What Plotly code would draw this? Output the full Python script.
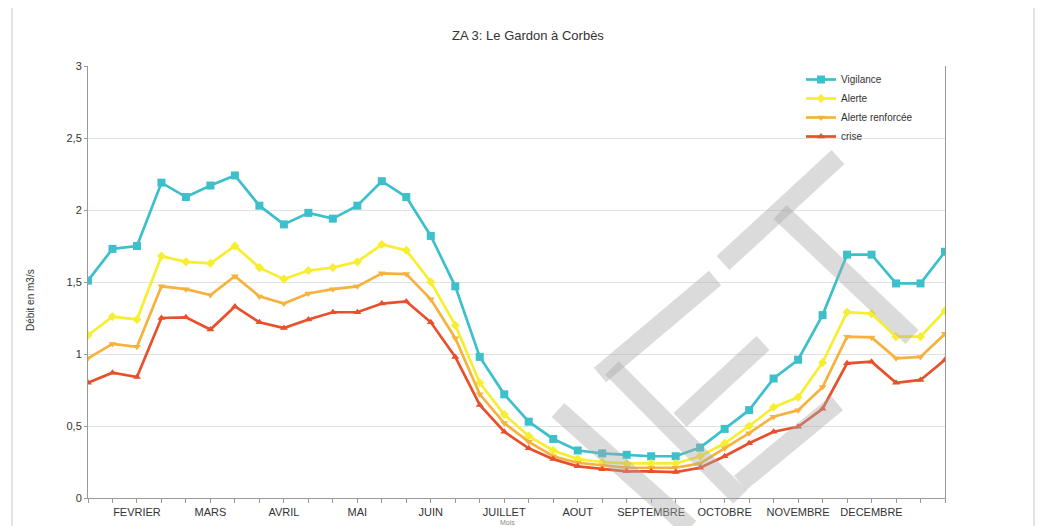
import plotly.graph_objects as go

# ---- data -------------------------------------------------------------
months = ["JANVIER", "FEVRIER", "MARS", "AVRIL", "MAI", "JUIN", "JUILLET",
          "AOUT", "SEPTEMBRE", "OCTOBRE", "NOVEMBRE", "DECEMBRE"]
decades = [f"{m} D{d}" for m in months for d in (1, 2, 3)]

# month labels shown on the axis (under the 3rd decade of the previous month)
tick_labels = ["FEVRIER", "MARS", "AVRIL", "MAI", "JUIN", "JUILLET", "AOUT",
               "SEPTEMBRE", "OCTOBRE", "NOVEMBRE", "DECEMBRE"]

vigilance = [1.51, 1.73, 1.75, 2.19, 2.09, 2.17, 2.24, 2.03, 1.90, 1.98, 1.94, 2.03,
             2.20, 2.09, 1.82, 1.47, 0.98, 0.72, 0.53, 0.41, 0.33, 0.31, 0.30, 0.29,
             0.29, 0.35, 0.48, 0.61, 0.83, 0.96, 1.27, 1.69, 1.69, 1.49, 1.49, 1.71]
alerte = [1.13, 1.26, 1.24, 1.68, 1.64, 1.63, 1.75, 1.60, 1.52, 1.58, 1.60, 1.64,
          1.76, 1.72, 1.50, 1.20, 0.80, 0.58, 0.43, 0.33, 0.27, 0.25, 0.24, 0.24,
          0.24, 0.29, 0.38, 0.50, 0.63, 0.70, 0.94, 1.29, 1.28, 1.12, 1.12, 1.30]
alerte_renforcee = [0.97, 1.07, 1.05, 1.47, 1.45, 1.41, 1.54, 1.40, 1.35, 1.42, 1.45, 1.47,
                    1.56, 1.555, 1.38, 1.11, 0.72, 0.52, 0.39, 0.29, 0.245, 0.225, 0.21, 0.21,
                    0.21, 0.24, 0.345, 0.45, 0.565, 0.61, 0.77, 1.12, 1.115, 0.97, 0.98, 1.14]
crise = [0.80, 0.87, 0.84, 1.25, 1.255, 1.17, 1.33, 1.22, 1.18, 1.24, 1.29, 1.29,
         1.35, 1.365, 1.22, 0.98, 0.646, 0.46, 0.345, 0.27, 0.22, 0.20, 0.185, 0.185,
         0.18, 0.21, 0.29, 0.38, 0.46, 0.495, 0.62, 0.935, 0.947, 0.80, 0.82, 0.96]

series = [
    ("Vigilance", vigilance, "#3dbfcc", "square", 8),
    ("Alerte", alerte, "#f6ee2e", "diamond", 7),
    ("Alerte renforcée", alerte_renforcee, "#f7b23e", "triangle-down", 7),
    ("crise", crise, "#e8502c", "triangle-up", 7),
]

# ---- layout geometry (screen pixels; page body adds an 8px offset) -----
W, H = 1044, 526
OFF = 8
PL, PR, PT, PB = 88, 945, 66, 498          # plot area on screen
L, T = PL - OFF, PT - OFF
R = W - (PR - OFF)
B = H - (PB - OFF)
pw, ph = PR - PL, PB - PT


def px_x(px):
    return (px - PL) / pw


def px_y(py):
    return (PB - py) / ph


fig = go.Figure()
for name, vals, col, sym, sz in series:
    fig.add_trace(go.Scatter(
        x=decades, y=vals, name=name, mode="lines+markers",
        line=dict(color=col, width=2.7),
        marker=dict(symbol=sym, size=sz, color=col),
    ))

# ticks at every decade, month label every third
ticktext = ["" for _ in decades]
for i, lab in enumerate(tick_labels):
    ticktext[2 + 3 * i] = lab

font = "Liberation Sans, Arial, sans-serif"

# faint scan watermark bands (decoration)
bands = [
    ((558, 410), (690, 528)),
    ((600, 375), (715, 278)),
    ((612, 368), (740, 497)),
    ((680, 420), (763, 343)),
    ((740, 483), (837, 403)),
    ((723, 263), (838, 157)),
    ((780, 212), (912, 337)),
]
shapes = []
for (x0, y0), (x1, y1) in bands:
    shapes.append(dict(type="line", xref="paper", yref="paper",
                       x0=px_x(x0), y0=px_y(y0), x1=px_x(x1), y1=px_y(y1),
                       line=dict(color="rgba(170,170,170,0.42)", width=19),
                       layer="above"))
# outer frame of the scanned chart
shapes.append(dict(type="rect", xref="paper", yref="paper",
                   x0=px_x(12), y0=px_y(540), x1=px_x(1034), y1=px_y(6),
                   line=dict(color="#c8c8c8", width=1), layer="below"))

fig.update_layout(
    width=W, height=H,
    margin=dict(l=L, r=R, t=T, b=B),
    paper_bgcolor="white", plot_bgcolor="white",
    separators=", ",
    font=dict(family=font, size=11, color="#333333"),
    title=dict(text="ZA 3: Le Gardon à Corbès", x=px_x(528), xanchor="center",
               xref="paper", y=1 - (35 - OFF) / H, yanchor="middle",
               font=dict(family=font, size=13, color="#333333")),
    showlegend=True,
    legend=dict(x=px_x(801), y=px_y(65), xanchor="left", yanchor="top",
                bgcolor="rgba(0,0,0,0)", font=dict(size=10, color="#333333"),
                tracegroupgap=0, itemwidth=30),
    xaxis=dict(type="category", range=[0, len(decades) - 1],
               tickmode="array", tickvals=decades, ticktext=ticktext,
               ticks="outside", ticklen=4, tickcolor="#999999",
               showline=True, linecolor="#999999", linewidth=1,
               showgrid=False, zeroline=False,
               tickfont=dict(size=11, color="#333333"), tickangle=0),
    yaxis=dict(range=[0, 3], dtick=0.5,
               showline=True, linecolor="#999999", linewidth=1, mirror=True,
               showgrid=True, gridcolor="#e2e2e2", gridwidth=1,
               zeroline=False, ticks="outside", ticklen=3, tickcolor="#999999",
               tickfont=dict(size=11, color="#333333")),
    shapes=shapes,
    annotations=[
        dict(text="Débit en m3/s", xref="paper", yref="paper",
             x=px_x(30), y=px_y(300), textangle=-90, showarrow=False,
             font=dict(size=10, color="#333333"), xanchor="center", yanchor="middle"),
        dict(text="Mois", xref="paper", yref="paper",
             x=px_x(507), y=px_y(522), showarrow=False,
             font=dict(size=7, color="#555555"), xanchor="center", yanchor="middle",
             opacity=0.7),
    ],
)

fig.write_html("out.html")
